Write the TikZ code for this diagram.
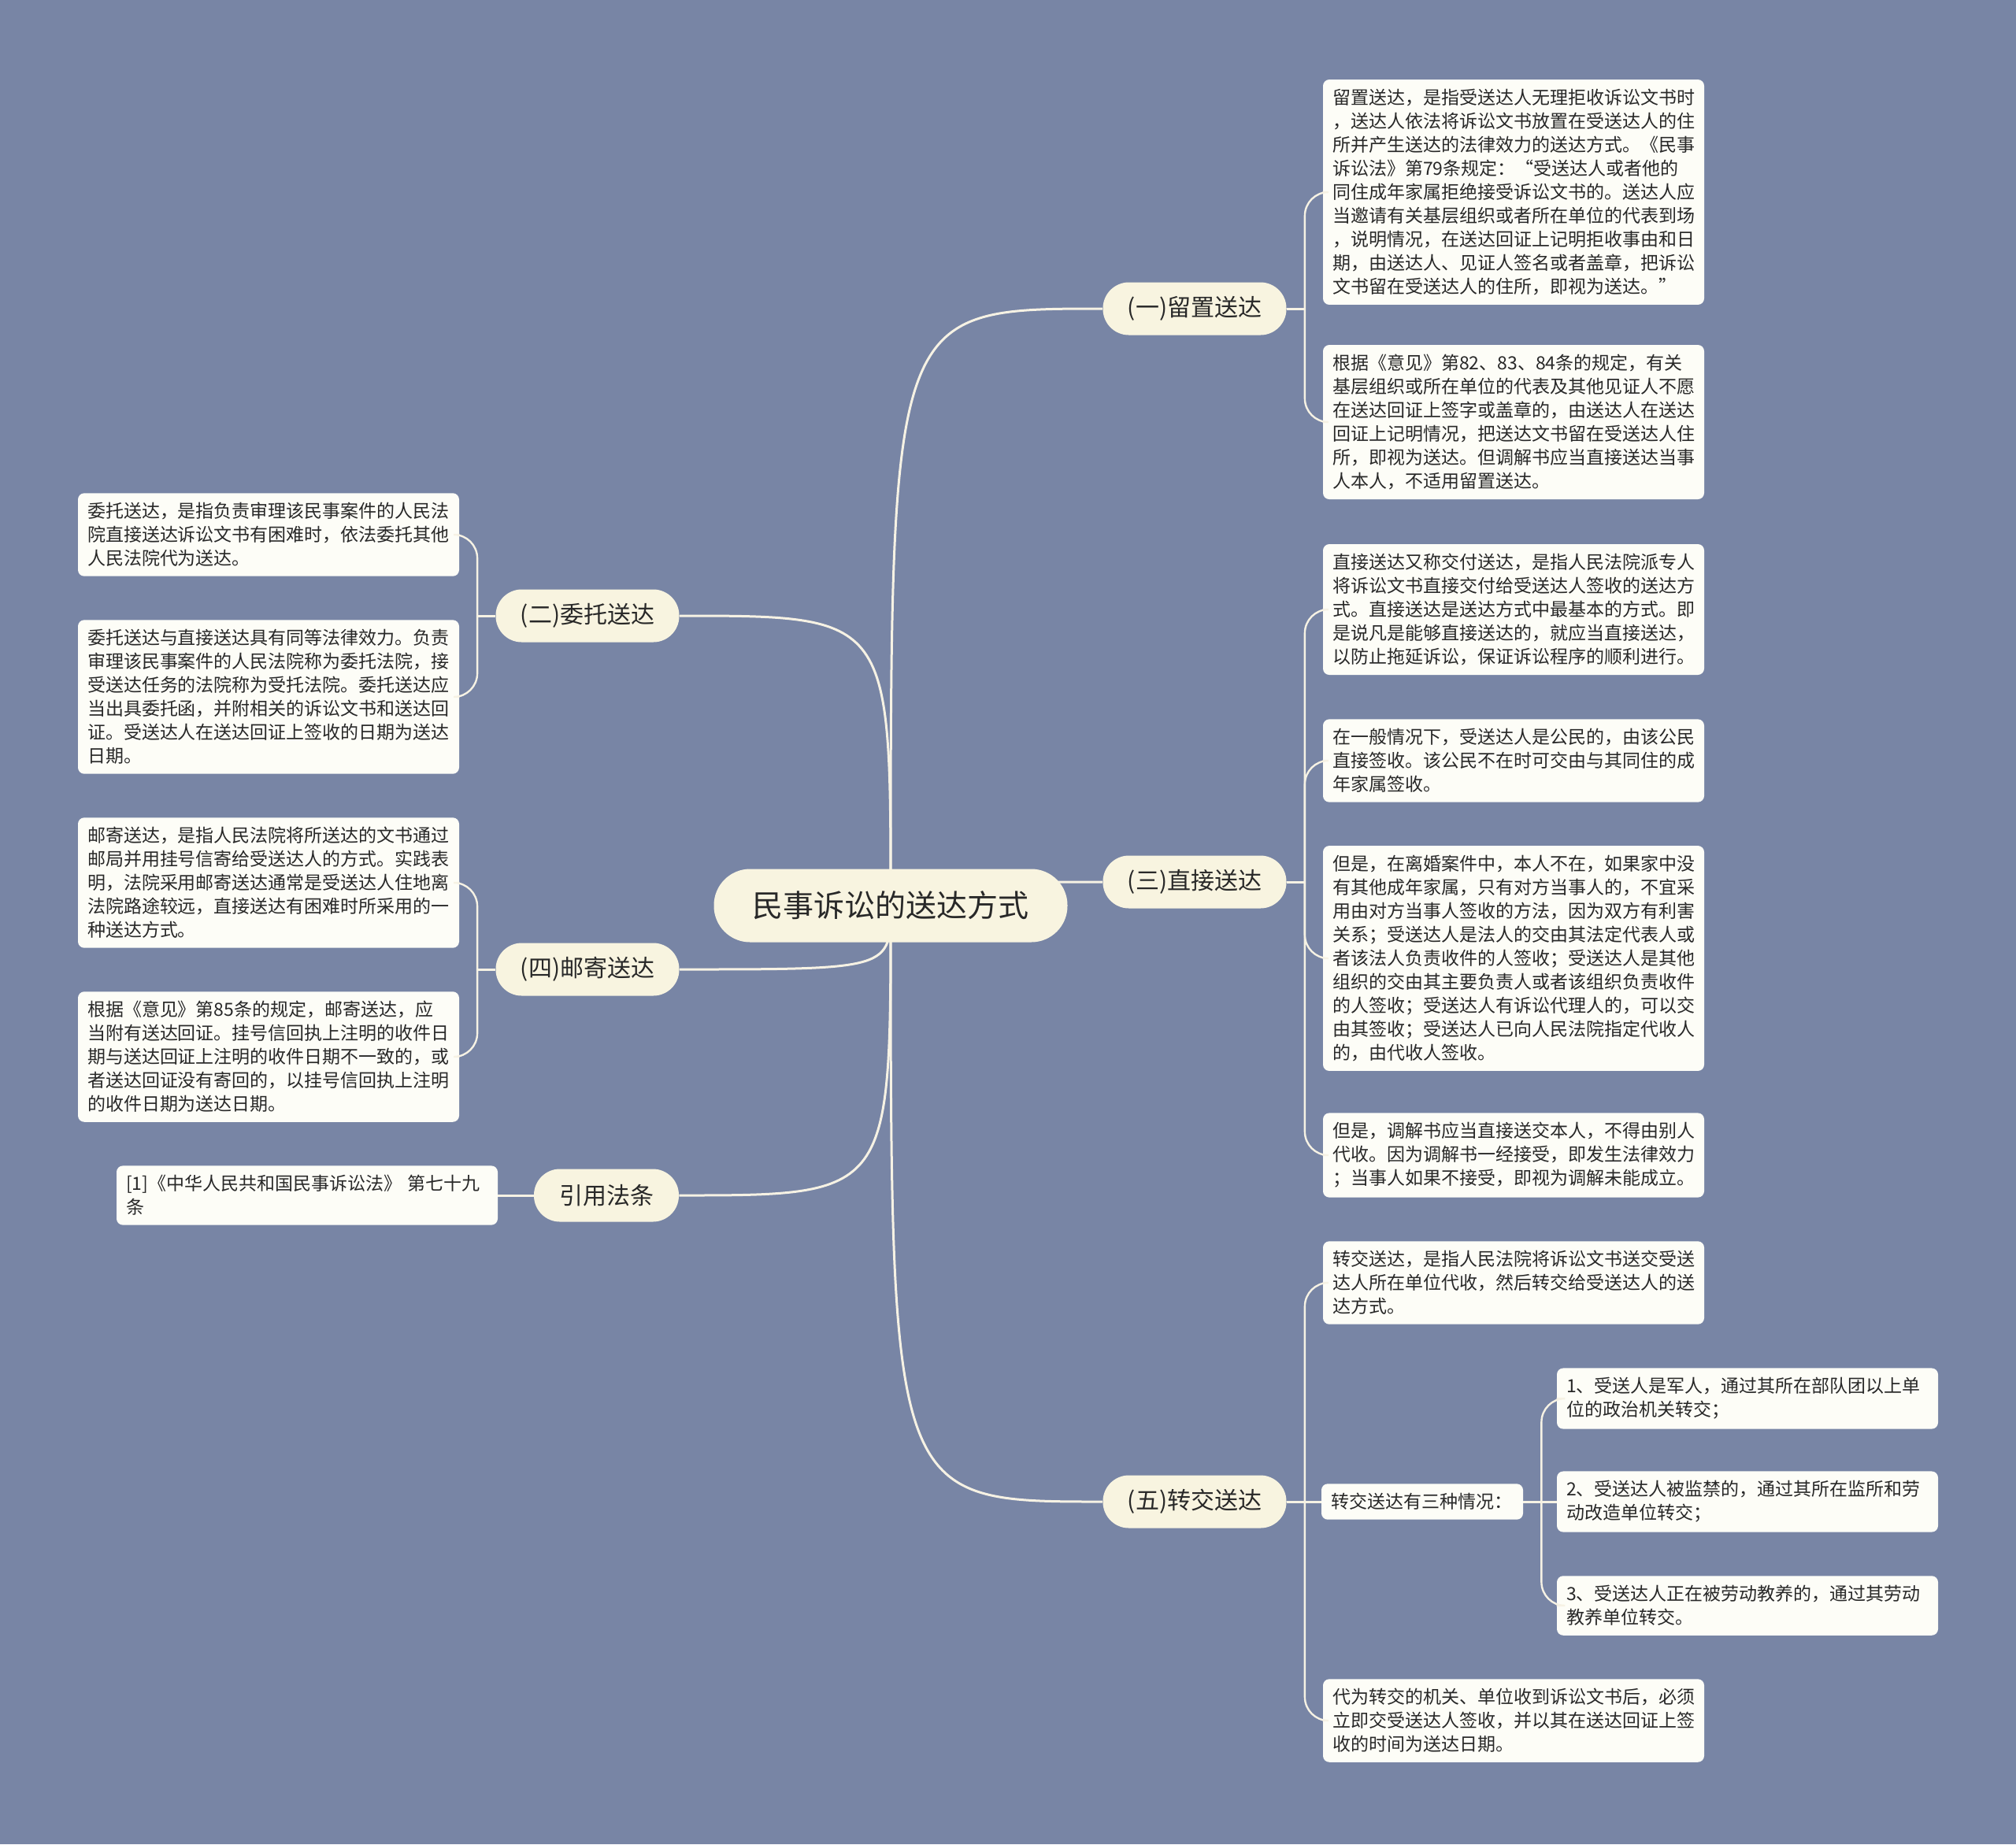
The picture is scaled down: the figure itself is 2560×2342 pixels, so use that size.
\documentclass[tikz,border=0pt]{standalone}
\usepackage{fontspec}
\setmainfont{Noto Sans CJK SC}
\definecolor{bgblue}{RGB}{120,133,165}
\definecolor{cream}{RGB}{248,244,224}
\definecolor{paper}{RGB}{253,253,247}
\definecolor{linecol}{RGB}{246,242,228}
\definecolor{ink}{RGB}{40,40,40}

\begin{document}
\begin{tikzpicture}[x=0.5pt,y=-0.5pt,
  rootnode/.style={fill=cream,rounded corners=23pt,minimum width=224.5pt,minimum height=46.5pt,text=ink,font=\fontsize{19.5}{24}\selectfont},
  topic/.style={fill=cream,rounded corners=16.5pt,minimum width=116.5pt,minimum height=33.5pt,text=ink,font=\fontsize{15}{18}\selectfont},
  leaf/.style={fill=paper,rounded corners=4pt,text=ink,align=left,text width=230pt,inner xsep=6pt,inner ysep=6pt,font=\fontsize{11.5}{15}\selectfont},
  link/.style={draw=linecol,line width=1.5pt},
  twig/.style={draw=linecol,line width=1.2pt,rounded corners=15pt}]
\fill[bgblue] (0,0) rectangle (2560,2342);

% topics
\coordinate (rootc) at (1131,1150);
\node[topic] (liuzhi) at (1517,392) {(一)留置送达};
\node[topic] (zhijie) at (1517,1120) {(三)直接送达};
\node[topic] (zhuanjiao) at (1517,1907) {(五)转交送达};
\node[topic] (weituo) at (746,782) {(二)委托送达};
\node[topic] (youji) at (746,1231) {(四)邮寄送达};
\node[topic,minimum width=92pt] (yinyong) at (770,1518) {引用法条};

\foreach \t in {liuzhi,zhijie,zhuanjiao}
  \draw[link] (rootc) .. controls (rootc |- \t.west) .. (\t.west);
\foreach \t in {weituo,youji,yinyong}
  \draw[link] (rootc) .. controls (rootc |- \t.east) .. (\t.east);

\node[rootnode] (root) at (rootc) {民事诉讼的送达方式};

% (一) 留置送达
\node[leaf] (liuzhiA) at (1922,244) {留置送达，是指受送达人无理拒收诉讼文书时\\，送达人依法将诉讼文书放置在受送达人的住\\所并产生送达的法律效力的送达方式。《民事\\诉讼法》第79条规定：“受送达人或者他的\\同住成年家属拒绝接受诉讼文书的。送达人应\\当邀请有关基层组织或者所在单位的代表到场\\，说明情况，在送达回证上记明拒收事由和日\\期，由送达人、见证人签名或者盖章，把诉讼\\文书留在受送达人的住所，即视为送达。”};
\node[leaf] (liuzhiB) at (1922,536) {根据《意见》第82、83、84条的规定，有关\\基层组织或所在单位的代表及其他见证人不愿\\在送达回证上签字或盖章的，由送达人在送达\\回证上记明情况，把送达文书留在受送达人住\\所，即视为送达。但调解书应当直接送达当事\\人本人，不适用留置送达。};

% (三) 直接送达
\node[leaf] (zhijieA) at (1922,774) {直接送达又称交付送达，是指人民法院派专人\\将诉讼文书直接交付给受送达人签收的送达方\\式。直接送达是送达方式中最基本的方式。即\\是说凡是能够直接送达的，就应当直接送达，\\以防止拖延诉讼，保证诉讼程序的顺利进行。};
\node[leaf] (zhijieB) at (1922,966) {在一般情况下，受送达人是公民的，由该公民\\直接签收。该公民不在时可交由与其同住的成\\年家属签收。};
\node[leaf] (zhijieC) at (1922,1217) {但是，在离婚案件中，本人不在，如果家中没\\有其他成年家属，只有对方当事人的，不宜采\\用由对方当事人签收的方法，因为双方有利害\\关系；受送达人是法人的交由其法定代表人或\\者该法人负责收件的人签收；受送达人是其他\\组织的交由其主要负责人或者该组织负责收件\\的人签收；受送达人有诉讼代理人的，可以交\\由其签收；受送达人已向人民法院指定代收人\\的，由代收人签收。};
\node[leaf] (zhijieD) at (1922,1467) {但是，调解书应当直接送交本人，不得由别人\\代收。因为调解书一经接受，即发生法律效力\\；当事人如果不接受，即视为调解未能成立。};

% (五) 转交送达
\node[leaf] (zhuanA) at (1922,1629) {转交送达，是指人民法院将诉讼文书送交受送\\达人所在单位代收，然后转交给受送达人的送\\达方式。};
\node[leaf,text width=116pt] (zhuanB) at (1806,1907) {转交送达有三种情况：};
\node[leaf] (zhuanC) at (1922,2185) {代为转交的机关、单位收到诉讼文书后，必须\\立即交受送达人签收，并以其在送达回证上签\\收的时间为送达日期。};
\node[leaf] (qingA) at (2219,1776) {1、受送人是军人，通过其所在部队团以上单\\位的政治机关转交；};
\node[leaf] (qingB) at (2219,1907) {2、受送达人被监禁的，通过其所在监所和劳\\动改造单位转交；};
\node[leaf] (qingC) at (2219,2039) {3、受送达人正在被劳动教养的，通过其劳动\\教养单位转交。};

% (二) 委托送达
\node[leaf] (weituoA) at (341,679) {委托送达，是指负责审理该民事案件的人民法\\院直接送达诉讼文书有困难时，依法委托其他\\人民法院代为送达。};
\node[leaf] (weituoB) at (341,885) {委托送达与直接送达具有同等法律效力。负责\\审理该民事案件的人民法院称为委托法院，接\\受送达任务的法院称为受托法院。委托送达应\\当出具委托函，并附相关的诉讼文书和送达回\\证。受送达人在送达回证上签收的日期为送达\\日期。};

% (四) 邮寄送达
\node[leaf] (youjiA) at (341,1121) {邮寄送达，是指人民法院将所送达的文书通过\\邮局并用挂号信寄给受送达人的方式。实践表\\明，法院采用邮寄送达通常是受送达人住地离\\法院路途较远，直接送达有困难时所采用的一\\种送达方式。};
\node[leaf] (youjiB) at (341,1342) {根据《意见》第85条的规定，邮寄送达，应\\当附有送达回证。挂号信回执上注明的收件日\\期与送达回证上注明的收件日期不一致的，或\\者送达回证没有寄回的，以挂号信回执上注明\\的收件日期为送达日期。};

% 引用法条
\node[leaf] (fatiao) at (390,1518) {[1]《中华人民共和国民事诉讼法》 第七十九\\条};

% twigs
\path (liuzhi.east) ++(23,0) coordinate (jl);
\path (zhijie.east) ++(23,0) coordinate (jz);
\path (zhuanjiao.east) ++(23,0) coordinate (jj);
\path (zhuanB.east) ++(23,0) coordinate (jq);
\path (weituo.west) ++(-23,0) coordinate (jw);
\path (youji.west) ++(-23,0) coordinate (jy);
\draw[link] (liuzhi.east) -- (jl);
\draw[link] (zhijie.east) -- (jz);
\draw[link] (zhuanjiao.east) -- (zhuanB.west);
\draw[link] (zhuanB.east) -- (qingB.west);
\draw[link] (weituo.west) -- (jw);
\draw[link] (youji.west) -- (jy);
\draw[link] (yinyong.west) -- (fatiao.east);
\foreach \c in {liuzhiA,liuzhiB}
  \draw[twig] (jl) |- (\c.west);
\foreach \c in {zhijieA,zhijieB,zhijieC,zhijieD}
  \draw[twig] (jz) |- (\c.west);
\foreach \c in {zhuanA,zhuanC}
  \draw[twig] (jj) |- (\c.west);
\foreach \c in {qingA,qingC}
  \draw[twig] (jq) |- (\c.west);
\foreach \c in {weituoA,weituoB}
  \draw[twig] (jw) |- (\c.east);
\foreach \c in {youjiA,youjiB}
  \draw[twig] (jy) |- (\c.east);
\end{tikzpicture}
\end{document}
